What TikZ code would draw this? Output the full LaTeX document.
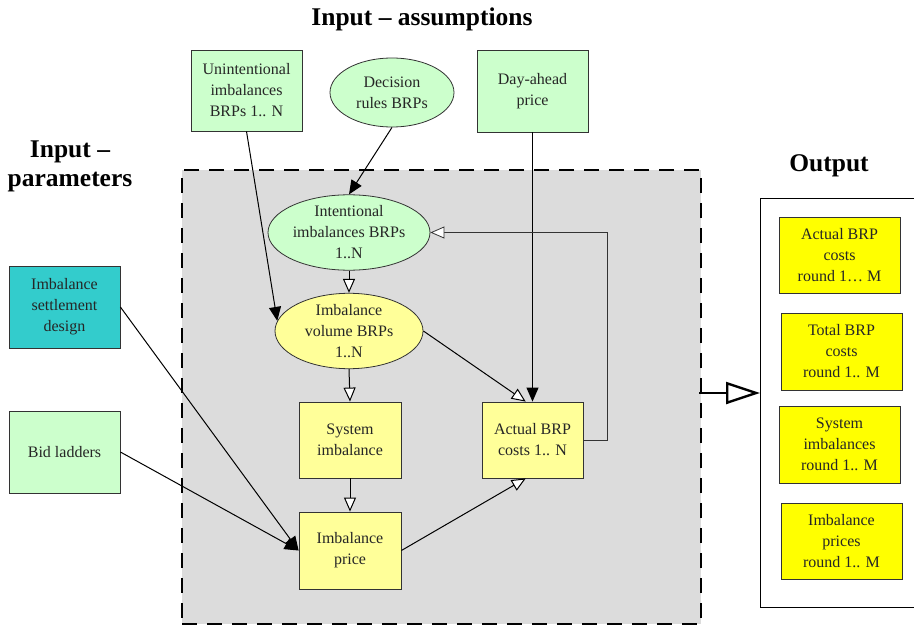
\documentclass[tikz,border=0pt]{standalone}
\usepackage{fontspec}
\setmainfont{Liberation Serif}
\usetikzlibrary{arrows.meta,shapes.geometric}
\definecolor{ltgreen}{HTML}{CCFFCC}
\definecolor{ltyellow}{HTML}{FFFF99}
\definecolor{yel}{HTML}{FFFF00}
\definecolor{teal2}{HTML}{33CCCC}
\definecolor{corefill}{HTML}{DCDCDC}
\tikzset{
  txt/.style={font=\fontsize{16}{21}\selectfont, align=center, text=black!85},
  box/.style={txt, draw=black!80, line width=0.8pt, rectangle, inner sep=0pt},
  ell/.style={txt, draw=black!80, line width=0.8pt, ellipse, inner sep=0pt},
  title/.style={font=\fontsize{25.5}{29}\selectfont\bfseries, align=center},
  filledarr/.style={-{Triangle[length=14pt,width=12pt]}, line width=1pt},
  openarr/.style={-{Triangle[open,length=14pt,width=12pt,fill=white]}, line width=1pt},
}
\begin{document}
\begin{tikzpicture}[x=1pt,y=-1pt]
\useasboundingbox (0,0) rectangle (914,626);
% core dashed region
\node[draw=black, fill=corefill, line width=2.6pt, dash pattern=on 15pt off 10pt,
      minimum width=519pt, minimum height=454pt, inner sep=0pt] (core) at (441.5,397) {};
% output frame
\node[draw=black, line width=1pt, fill=white, minimum width=160pt, minimum height=409pt, inner sep=0pt] (outframe) at (840,402.5) {};
% titles
\node[title] (tassum) at (422,19) {Input -- assumptions};
\node[title] (tparam) at (70,166) {Input --\\parameters};
\node[title] (tout) at (829,166) {Output};
% input assumption nodes
\node[box, fill=ltgreen, minimum width=111pt, minimum height=81pt] (unint) at (246.5,90.5) {Unintentional\\imbalances\\BRPs 1.. N};
\node[ell, fill=ltgreen, minimum width=124pt, minimum height=69pt] (dec) at (392,92.5) {Decision\\rules BRPs};
\node[box, fill=ltgreen, minimum width=111pt, minimum height=82pt] (dayahead) at (532.5,91) {Day-ahead\\price};
% parameters
\node[box, fill=teal2, minimum width=111pt, minimum height=82pt] (settle) at (64.5,307) {Imbalance\\settlement\\design};
\node[box, fill=ltgreen, minimum width=111pt, minimum height=82pt] (bid) at (64.5,452) {Bid ladders};
% core nodes
\node[ell, fill=ltgreen, minimum width=162pt, minimum height=69pt] (intent) at (349,232.5) {Intentional\\imbalances BRPs\\1..N};
\node[ell, fill=ltyellow, minimum width=148pt, minimum height=68pt] (vol) at (349,331) {Imbalance\\volume BRPs\\1..N};
\node[box, fill=ltyellow, minimum width=102pt, minimum height=76pt] (sysimb) at (350,440) {System\\imbalance};
\node[box, fill=ltyellow, minimum width=102pt, minimum height=77pt] (price) at (350,550.5) {Imbalance\\price};
\node[box, fill=ltyellow, minimum width=101pt, minimum height=76pt] (actual) at (532.5,440) {Actual BRP\\costs 1.. N};
% output nodes
\node[box, fill=yel, minimum width=121pt, minimum height=76pt] (o1) at (839.5,255) {Actual BRP\\costs\\round 1\dots\ M};
\node[box, fill=yel, minimum width=121pt, minimum height=77pt] (o2) at (841.5,351.5) {Total BRP\\costs\\round 1.. M};
\node[box, fill=yel, minimum width=121pt, minimum height=77pt] (o3) at (839.5,444.5) {System\\imbalances\\round 1.. M};
\node[box, fill=yel, minimum width=121pt, minimum height=76pt] (o4) at (841.5,541) {Imbalance\\prices\\round 1.. M};
% connectors
\draw[filledarr] (unint.south) -- (vol.172);
\draw[filledarr] (dec.south) -- (intent.north);
\draw[filledarr] (dayahead.south) -- (actual.north);
\draw[openarr] (intent.south) -- (vol.north);
\draw[openarr] (vol.east) -- (actual.100);
\draw[openarr] (vol.south) -- (sysimb.north);
\draw[openarr] (sysimb.south) -- (price.north);
\draw[openarr] (price.east) -- (actual.260);
\draw[filledarr] (settle.east) -- (price.west);
\draw[filledarr] (bid.east) -- (price.west);
\draw[openarr, line width=0.8pt, draw=black!80] (actual.east) -- ++(24,0) |- (intent.east);
% big output arrow
\coordinate (outA) at (699,393);
\coordinate (outB) at (760,393);
\draw[-{Triangle[open,length=34pt,width=22pt,fill=white]}, line width=2.4pt] (outA) -- (outB);
\end{tikzpicture}
\end{document}
